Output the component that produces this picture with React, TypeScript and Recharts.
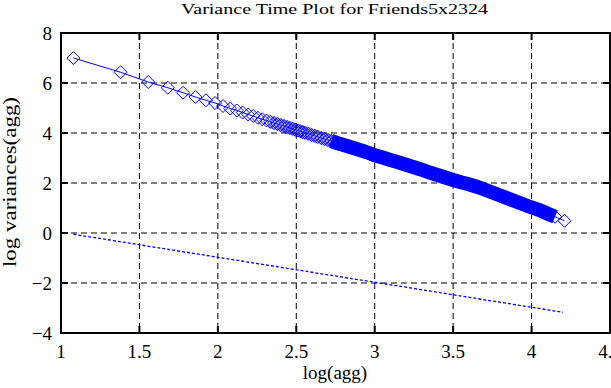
import { ComposedChart, Line, XAxis, YAxis, CartesianGrid, ReferenceArea } from "recharts";

// log10 of aggregation level
const aggLog = [
  1.079, 1.38, 1.556, 1.681, 1.778, 1.857, 1.924, 1.982, 2.033, 2.079, 2.121, 2.158, 2.193, 2.225, 2.255,
  2.283, 2.31, 2.334, 2.358, 2.38, 2.401, 2.422, 2.441, 2.459, 2.477, 2.494, 2.51, 2.526, 2.541, 2.556,
  2.577, 2.598, 2.617, 2.635, 2.659, 2.681, 2.702, 2.723, 2.742, 2.76, 2.782, 2.803, 2.823, 2.843, 2.864,
  2.885, 2.92, 2.96, 3.0, 3.05, 3.1, 3.15, 3.2, 3.25, 3.3, 3.35, 3.4, 3.45, 3.5, 3.55, 3.6, 3.65, 3.7,
  3.75, 3.8, 3.85, 3.9, 3.95, 4.0, 4.05, 4.1, 4.15, 4.21,
];
const logVar = [
  7.0, 6.43, 6.04, 5.81, 5.61, 5.44, 5.31, 5.2, 5.08, 4.98, 4.9, 4.82, 4.74, 4.68, 4.61,
  4.55, 4.5, 4.45, 4.4, 4.36, 4.32, 4.28, 4.24, 4.2, 4.17, 4.13, 4.1, 4.07, 4.04, 4.01,
  3.97, 3.92, 3.89, 3.85, 3.8, 3.76, 3.72, 3.68, 3.64, 3.6, 3.56, 3.52, 3.48, 3.44, 3.4,
  3.36, 3.29, 3.21, 3.11, 3.02, 2.92, 2.83, 2.73, 2.63, 2.53, 2.42, 2.32, 2.22, 2.12, 2.03, 1.95, 1.85, 1.74,
  1.62, 1.5, 1.38, 1.26, 1.14, 1.02, 0.92, 0.78, 0.65, 0.49,
];

// slope -1 reference line
const refX = [1.079, 4.2];
const refY = [-0.05, -3.17];

const xTicks = [1, 1.5, 2, 2.5, 3, 3.5, 4, 4.5];
const yTicks = [-4, -2, 0, 2, 4, 6, 8];

const BLUE = "#0000ff";
const SERIF = { fontFamily: "Liberation Serif, Times New Roman, Times, serif" };
const LEFT = 61;
const RIGHT = 610;
const TOP = 33;
const BOTTOM = 333;

const points = aggLog.map((x, i) => ({ x, y: logVar[i] }));
// overlapping diamonds: a mesh where they start to crowd, solid further on
const mesh = points.filter((p) => p.x >= 2.33 && p.x <= 2.73);
const band = points.filter((p) => p.x >= 2.72 && p.x <= 4.16);
const refLine = refX.map((x, i) => ({ x, y: refY[i] }));

function Diamond(props: any) {
  const { cx, cy, index } = props;
  if (cx == null || cy == null) return <g key={index} />;
  const h = 6.5;
  return (
    <polygon
      key={index}
      points={`${cx - h},${cy} ${cx},${cy - h} ${cx + h},${cy} ${cx},${cy + h}`}
      fill="none"
      stroke={BLUE}
      strokeWidth={1}
    />
  );
}

function YTick(props: any) {
  const { y, payload } = props;
  const v = payload.value;
  const label = v < 0 ? `\u2212${Math.abs(v)}` : `${v}`;
  return (
    <g>
      <text x={52} y={y + 7} textAnchor="end" fontSize={19} style={SERIF} fill="#000">
        {label}
      </text>
      <line x1={LEFT} x2={LEFT + 7} y1={y} y2={y} stroke="#000" strokeWidth={2} />
      <line x1={RIGHT - 7} x2={RIGHT} y1={y} y2={y} stroke="#000" strokeWidth={2} />
    </g>
  );
}

function XTick(props: any) {
  const { x, payload } = props;
  return (
    <g>
      <text x={x} y={358} textAnchor="middle" fontSize={19} style={SERIF} fill="#000">
        {payload.value}
      </text>
      <line x1={x} x2={x} y1={BOTTOM} y2={BOTTOM - 7} stroke="#000" strokeWidth={2} />
      <line x1={x} x2={x} y1={TOP} y2={TOP + 7} stroke="#000" strokeWidth={2} />
    </g>
  );
}

export default function App() {
  return (
    <div style={{ position: "absolute", left: 0, top: 0, width: 611, height: 388, background: "#fff" }}>
      <ComposedChart width={611} height={388} margin={{ top: TOP, right: 1, left: 0, bottom: 0 }}>
        <CartesianGrid stroke="#000" strokeDasharray="6 4" strokeWidth={1} />
        <XAxis
          type="number"
          dataKey="x"
          domain={[1, 4.5]}
          ticks={xTicks}
          interval={0}
          allowDataOverflow
          height={55}
          axisLine={false}
          tickLine={false}
          tick={<XTick />}
        />
        <YAxis
          type="number"
          dataKey="y"
          domain={[-4, 8]}
          ticks={yTicks}
          interval={0}
          allowDataOverflow
          width={61}
          axisLine={false}
          tickLine={false}
          tick={<YTick />}
        />
        <Line
          data={mesh}
          dataKey="y"
          stroke={BLUE}
          strokeOpacity={0.3}
          strokeWidth={13}
          dot={false}
          activeDot={false}
          isAnimationActive={false}
        />
        <Line
          data={band}
          dataKey="y"
          stroke={BLUE}
          strokeWidth={14}
          dot={false}
          activeDot={false}
          isAnimationActive={false}
        />
        <Line
          data={points}
          dataKey="y"
          stroke={BLUE}
          strokeWidth={1}
          dot={(p: any) => <Diamond {...p} key={p.index} />}
          activeDot={false}
          isAnimationActive={false}
        />
        <Line
          data={refLine}
          dataKey="y"
          stroke={BLUE}
          strokeWidth={1.3}
          strokeDasharray="3 2"
          dot={false}
          activeDot={false}
          isAnimationActive={false}
        />
        <ReferenceArea x1={1} x2={4.5} y1={-4} y2={8} fill="none" stroke="#000" strokeWidth={2} ifOverflow="visible" />
      </ComposedChart>
      <svg width={611} height={388} style={{ position: "absolute", left: 0, top: 0, pointerEvents: "none" }}>
        <text
          x={334.5}
          y={14}
          textAnchor="middle"
          fontSize={15}
          style={SERIF}
          textLength={307}
          lengthAdjust="spacingAndGlyphs"
        >
          Variance Time Plot for Friends5x2324
        </text>
        <text x={335} y={379} textAnchor="middle" fontSize={19} style={SERIF}>
          log(agg)
        </text>
        <text
          x={16}
          y={182}
          transform="rotate(-90 16 182)"
          textAnchor="middle"
          fontSize={19}
          style={SERIF}
          textLength={170}
          lengthAdjust="spacingAndGlyphs"
        >
          log variances(agg)
        </text>
      </svg>
    </div>
  );
}
